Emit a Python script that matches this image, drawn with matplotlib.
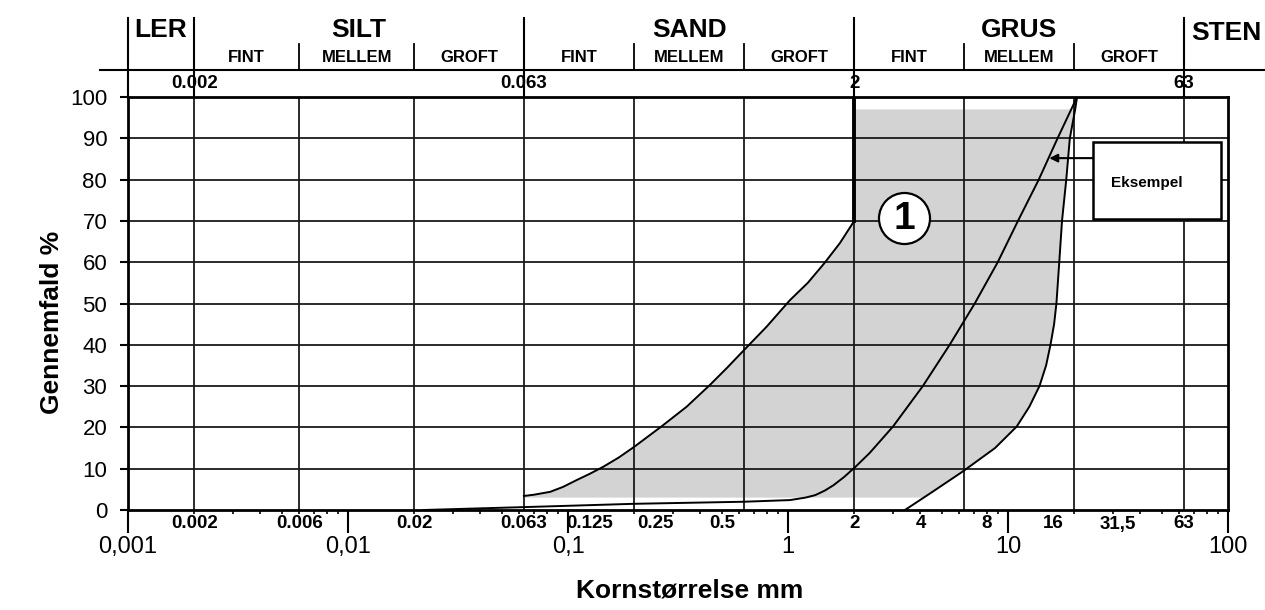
#Kornkurve (grain size distribution) - gennemfald vs kornstoerrelse
import numpy as np
import matplotlib
matplotlib.use("Agg")
import matplotlib.pyplot as plt
from matplotlib.patches import Rectangle
from matplotlib.transforms import blended_transform_factory
from matplotlib.ticker import FixedLocator, LogLocator, NullFormatter

plt.rcParams['font.family'] = ['Liberation Sans', 'DejaVu Sans']

# soil fractions (mm)
main_names = ["LER", "SILT", "SAND", "GRUS", "STEN"]
main_bounds = [0.001, 0.002, 0.063, 2, 63]
sub_names = ["FINT", "MELLEM", "GROFT"]
silt_bounds = [0.002, 0.006, 0.02, 0.063]
sand_bounds = [0.063, 0.2, 0.63, 2]
grus_bounds = [2, 6.3, 20, 63]
grid_x = [0.002, 0.006, 0.02, 0.063, 0.2, 0.63, 2, 6.3, 20, 63]

# tick labels
decades = [0.001, 0.01, 0.1, 1, 10, 100]
decade_labels = ["0,001", "0,01", "0,1", "1", "10", "100"]
sieve_x = [0.002, 0.006, 0.02, 0.063, 0.125, 0.25, 0.5, 2, 4, 8, 16, 31.5, 63]
sieve_labels = ["0.002", "0.006", "0.02", "0.063", "0.125", "0.25", "0.5",
                "2", "4", "8", "16", "31,5", "63"]
top_x = [0.002, 0.063, 2, 63]
top_labels = ["0.002", "0.063", "2", "63"]

# curves (mm, %)
left_x = [0.063, 0.07, 0.083, 0.095, 0.11, 0.126, 0.145, 0.17, 0.2, 0.267, 0.346,
          0.442, 0.53, 0.62, 0.8, 1.02, 1.23, 1.46, 1.72, 2.0]
left_y = [3.4, 3.7, 4.4, 5.6, 7.3, 8.8, 10.5, 12.7, 15.3, 20.3, 25, 30.3, 34.5,
          38.3, 44.4, 50.8, 55, 59.7, 64.6, 70]
mid_x = [0.022, 0.063, 0.2, 0.63, 1.02, 1.2, 1.33, 1.47, 1.61, 1.8, 2.03, 2.35,
         3.0, 4.1, 5.43, 7.06, 8.98, 11.1, 13.8, 16.8, 20.6]
mid_y = [0, 0.7, 1.5, 2.0, 2.4, 3.0, 3.6, 4.7, 6.0, 8.0, 10.5, 13.8, 20.2,
         30, 40, 50, 60, 70, 80, 90, 100]
right_x = [3.4, 4.42, 6.22, 8.73, 10.95, 12.5, 13.9, 14.9, 15.6, 16.2, 16.6, 17.1,
           17.6, 18.4, 19.1, 20.2, 20.6]
right_y = [0, 4.0, 9.3, 15, 20.2, 25, 30, 35, 40, 45, 50, 60, 70, 80, 90, 97, 100]
band_lo, band_hi = 3, 97


def ay(py):
    # pixel row in the 610 px figure -> axes fraction
    return (510 - py) / 413.0


fig = plt.figure(figsize=(12.65, 6.1), dpi=100)
ax = fig.add_axes([128 / 1265, 100 / 610, 1100 / 1265, 413 / 610])
ax.set_xscale('log')
ax.set_xlim(0.001, 100)
ax.set_ylim(0, 100)

# grey band
lx = [left_x[0]] + left_x + [2]
ly = [band_lo] + left_y + [band_hi]
ry = [band_hi] + [y for y in right_y[::-1] if band_lo < y < band_hi] + [band_lo]
rx = list(10 ** np.interp(ry, right_y, np.log10(right_x)))
ax.fill(lx + rx, ly + ry, color='#d3d3d3', lw=0, zorder=1)

# grid
for y in range(10, 100, 10):
    ax.axhline(y, color='#1a1a1a', lw=1.3, zorder=2)
for x in grid_x:
    ax.axvline(x, color='#1a1a1a', lw=1.3, zorder=2)

# curves
ax.plot(left_x, left_y, color='k', lw=1.4, zorder=4)
ax.plot([2, 2], [70, 100], color='k', lw=2.8, zorder=4)
ax.plot(mid_x, mid_y, color='k', lw=1.4, zorder=4)
ax.plot(right_x, right_y, color='k', lw=1.4, zorder=4)

# circled 1
ax.scatter([3.37], [70.7], s=1350, facecolor='white', edgecolor='k', lw=1.6, zorder=6)
ax.text(3.37, 70.5, "1", fontsize=28, fontweight='bold', ha='center', va='center', zorder=7)

# Eksempel box + arrow
ax.add_patch(Rectangle((24.3, 70.5), 92.9 - 24.3, 89.1 - 70.5, fc='white', ec='k',
                       lw=1.8, zorder=6))
ax.text(29.4, 79.2, "Eksempel", fontsize=11, fontweight='bold', va='center', ha='left', zorder=7)
ax.annotate('', xy=(15.4, 85.2), xytext=(24.3, 85.2),
            arrowprops=dict(arrowstyle='-|>', color='k', lw=1.5, mutation_scale=12,
                            shrinkA=0, shrinkB=0), zorder=7)

# axes / ticks
for s in ax.spines.values():
    s.set_linewidth(2)
ax.set_yticks(range(0, 101, 10))
ax.tick_params(axis='y', length=6, width=1.5, pad=9, labelsize=16)
ax.xaxis.set_major_locator(FixedLocator(decades))
ax.set_xticklabels(decade_labels)
ax.xaxis.set_minor_locator(LogLocator(base=10, subs=np.arange(2, 10)))
ax.xaxis.set_minor_formatter(NullFormatter())
ax.tick_params(axis='x', which='major', length=16.5, width=1.5, pad=2, labelsize=17)
ax.tick_params(axis='x', which='minor', length=3, width=1.2)

tr = blended_transform_factory(ax.transData, ax.transAxes)
for x, lab in zip(sieve_x, sieve_labels):
    ax.text(x, ay(524), lab, transform=tr, fontsize=13.5, fontweight='bold',
            ha='center', va='center')

# header above the chart
for x in main_bounds:
    ax.plot([x, x], [1, ay(18)], transform=tr, color='k', lw=1.5, clip_on=False)
for b in (silt_bounds, sand_bounds, grus_bounds):
    for x in b[1:-1]:
        ax.plot([x, x], [ay(70), ay(44)], transform=tr, color='k', lw=1.3, clip_on=False)
ax.plot([0.000746, 147], [ay(70), ay(70)], transform=tr, color='k', lw=1.5, clip_on=False)
for x, lab in zip(top_x, top_labels):
    ax.text(x, ay(83), lab, transform=tr, fontsize=13.5, fontweight='bold',
            ha='center', va='center')

for i, name in enumerate(main_names):
    if name == "STEN":
        ax.text(main_bounds[i] * 1.08, ay(33), name, transform=tr, fontsize=19,
                fontweight='bold', ha='left', va='center')
    else:
        xc = np.sqrt(main_bounds[i] * main_bounds[i + 1])
        ax.text(xc, ay(30), name, transform=tr, fontsize=19, fontweight='bold',
                ha='center', va='center')
for b in (silt_bounds, sand_bounds, grus_bounds):
    for j, name in enumerate(sub_names):
        xc = np.sqrt(b[j] * b[j + 1])
        ax.text(xc, ay(58), name, transform=tr, fontsize=12, fontweight='bold',
                ha='center', va='center')

fig.text(52 / 1265, 1 - 322 / 610, "Gennemfald %", rotation=90, fontsize=19,
         fontweight='bold', ha='center', va='center')
fig.text(690 / 1265, 1 - 590 / 610, "Kornstørrelse mm", fontsize=19,
         fontweight='bold', ha='center', va='center')

fig.savefig("out.png", dpi=100)
